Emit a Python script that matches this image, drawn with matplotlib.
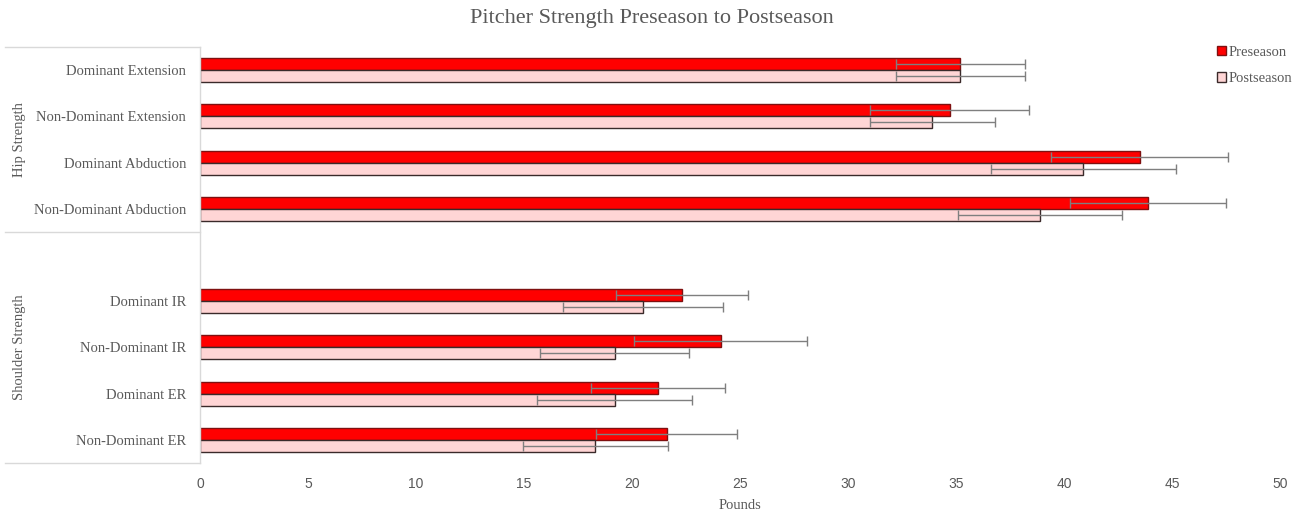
import matplotlib
matplotlib.use("Agg")
import matplotlib.pyplot as plt
import numpy as np

categories = ["Dominant Extension", "Non-Dominant Extension", "Dominant Abduction",
              "Non-Dominant Abduction", "", "Dominant IR", "Non-Dominant IR",
              "Dominant ER", "Non-Dominant ER"]
groups = ["Hip Strength", "Shoulder Strength"]
pre_vals = [35.2, 34.7, 43.5, 43.9, np.nan, 22.3, 24.1, 21.2, 21.6]
pre_err = [3.0, 3.7, 4.1, 3.6, np.nan, 3.05, 4.0, 3.1, 3.25]
post_vals = [35.2, 33.9, 40.9, 38.9, np.nan, 20.5, 19.2, 19.2, 18.3]
post_err = [3.0, 2.9, 4.3, 3.8, np.nan, 3.7, 3.45, 3.6, 3.35]
xticks = [0, 5, 10, 15, 20, 25, 30, 35, 40, 45, 50]

plt.rcParams['font.family'] = ['Liberation Serif', 'DejaVu Serif']
fig = plt.figure(figsize=(13.05, 5.15), dpi=100)
ax = fig.add_axes([200/1305, 1-463/515, 1080/1305, 416/515])

y = np.arange(len(categories))
h = 0.26
grey = '#595959'
ax.barh(y - h/2, pre_vals, height=h, color='#FF0000', edgecolor='#7F1010', linewidth=1.0,
        xerr=pre_err, error_kw=dict(ecolor='#7F7F7F', elinewidth=1.0, capsize=3.5, capthick=1.0),
        label='Preseason')
ax.barh(y + h/2, post_vals, height=h, color='#FFD5D5', edgecolor='#3A2A2A', linewidth=1.0,
        xerr=post_err, error_kw=dict(ecolor='#7F7F7F', elinewidth=1.0, capsize=3.5, capthick=1.0),
        label='Postseason')

ax.set_ylim(len(categories) - 0.5, -0.5)
ax.set_xlim(0, 50)
ax.set_xticks(xticks)
ax.set_xticklabels([str(t) for t in xticks], fontsize=10, color=grey, family='Liberation Sans')
ax.set_yticks(y)
ax.set_yticklabels(categories, fontsize=10.5, color=grey)
ax.tick_params(axis='both', length=0, pad=10)
ax.tick_params(axis='y', pad=10)
for s in ax.spines.values():
    s.set_visible(False)
ax.set_xlabel('Pounds', fontsize=10.5, color=grey, labelpad=6)

# group separators and labels
line_col = '#D9D9D9'
for yy in [-0.5, 3.5, 8.5]:
    ax.plot([-195/21.6, 0], [yy, yy], color=line_col, lw=1.0, clip_on=False)
ax.plot([0, 0], [-0.5, 8.5], color=line_col, lw=1.0, clip_on=False)
ax.text(-180/21.6, 1.5, groups[0], rotation=90, ha='center', va='center', fontsize=10.5, color=grey)
ax.text(-180/21.6, 6.0, groups[1], rotation=90, ha='center', va='center', fontsize=10.5, color=grey)

fig.text(652/1305, 1-18/515, 'Pitcher Strength Preseason to Postseason', ha='center', va='center',
         fontsize=16, color=grey)

leg = ax.legend(loc='upper left', bbox_to_anchor=(1217/1305, 1-46/515), bbox_transform=fig.transFigure,
                frameon=False, fontsize=10.5, handlelength=0.6, handleheight=0.6, handletextpad=0.2,
                labelspacing=0.9, borderaxespad=0, borderpad=0)
for t in leg.get_texts():
    t.set_color(grey)

fig.savefig('out.png', dpi=100)
